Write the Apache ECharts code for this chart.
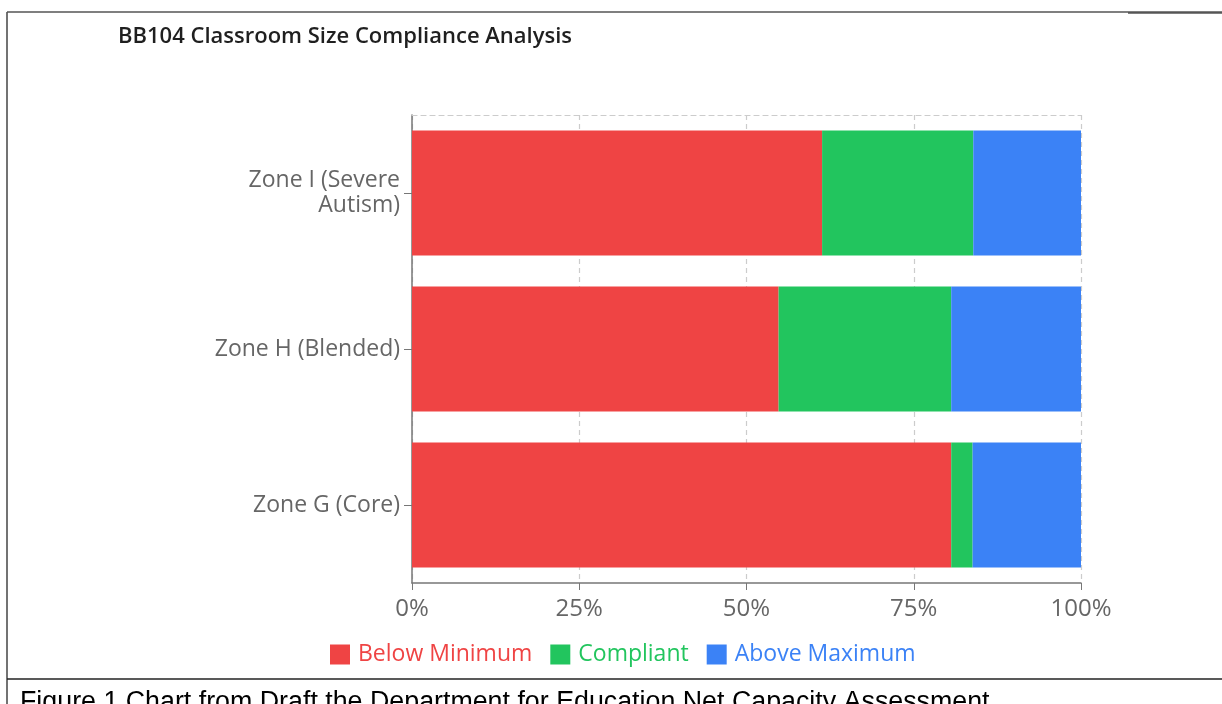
<!DOCTYPE html>
<html>
<head>
<meta charset="utf-8">
<script src="https://cdn.jsdelivr.net/npm/echarts@6/dist/echarts.min.js"></script>
<style>
  html, body { margin: 0; padding: 0; background: #fff; }
  #chart { width: 1222px; height: 704px; }
</style>
</head>
<body>
<div id="chart"></div>
<script>
// zones, top to bottom
var zones = ['Zone I (Severe\nAutism)', 'Zone H (Blended)', 'Zone G (Core)'];
var belowMin = [61.3, 54.8, 80.6];
var compliant = [22.6, 25.8, 3.2];
var aboveMax = [16.1, 19.4, 16.2];
var xTicks = [0, 25, 50, 75, 100];

var red = '#ef4444', green = '#22c55e', blue = '#3b82f6';
var font = "'Open Sans', 'Noto Sans', sans-serif";

var chart = echarts.init(document.getElementById('chart'));
chart.setOption({
  backgroundColor: '#fff',
  animation: false,
  title: [
    {text: 'BB104 Classroom Size Compliance Analysis', left: 113, top: 21,
      textStyle: {color: '#1f1f1f', fontSize: 22, fontWeight: 600, fontFamily: font}},
    {text: 'Figure 1 Chart from Draft the Department for Education Net Capacity Assessment.', left: 15, top: 684,
      textStyle: {color: '#000', fontSize: 26.8, fontWeight: 'normal', fontFamily: "'Liberation Sans', Arial, sans-serif"}}
  ],
  grid: {left: 412, right: 141, top: 115, bottom: 121, containLabel: false},
  legend: {
    top: 638, left: 325,
    icon: 'rect', itemWidth: 20, itemHeight: 20, itemGap: 18,
    textStyle: {fontSize: 23, fontFamily: font, padding: [0, 0, 0, 3]},
    data: [
      {name: 'Below Minimum', textStyle: {color: red}},
      {name: 'Compliant', textStyle: {color: green}},
      {name: 'Above Maximum', textStyle: {color: blue}}
    ]
  },
  xAxis: [
    {type: 'value', min: xTicks[0], max: xTicks[xTicks.length - 1], interval: xTicks[1] - xTicks[0],
      axisLine: {show: true, lineStyle: {color: '#777', width: 1.5}},
      axisTick: {show: true, length: 7, lineStyle: {color: '#777'}},
      axisLabel: {formatter: '{value}%', color: '#666', fontSize: 24, fontFamily: font, margin: 14},
      splitLine: {show: true, lineStyle: {color: '#ccc', type: [5, 4], width: 1.2}}},
    {type: 'value', position: 'top', min: 0, max: 100,
      axisLine: {show: true, lineStyle: {color: '#ccc', type: [5, 4], width: 1.2}},
      axisTick: {show: false}, axisLabel: {show: false}, splitLine: {show: false}}
  ],
  yAxis: {
    type: 'category', inverse: true, data: zones,
    axisLine: {show: true, lineStyle: {color: '#777', width: 1.5}},
    axisTick: {show: true, alignWithLabel: true, length: 8, lineStyle: {color: '#777'}},
    axisLabel: {color: '#666', fontSize: 23, lineHeight: 25, fontFamily: font, margin: 12, align: 'right'},
    splitLine: {show: false}
  },
  series: [
    {name: 'Below Minimum', type: 'bar', stack: 'total', barCategoryGap: '20%',
      itemStyle: {color: red}, data: belowMin},
    {name: 'Compliant', type: 'bar', stack: 'total',
      itemStyle: {color: green}, data: compliant},
    {name: 'Above Maximum', type: 'bar', stack: 'total',
      itemStyle: {color: blue}, data: aboveMax}
  ],
  graphic: [
    {type: 'line', shape: {x1: 7, y1: 12, x2: 7, y2: 704}, style: {stroke: '#444', lineWidth: 1.5}},
    {type: 'line', shape: {x1: 7, y1: 12, x2: 1128, y2: 12}, style: {stroke: '#555', lineWidth: 1.5}},
    {type: 'line', shape: {x1: 1128, y1: 12.5, x2: 1222, y2: 12.5}, style: {stroke: '#555', lineWidth: 2.5}},
    {type: 'line', shape: {x1: 7, y1: 679, x2: 1222, y2: 679}, style: {stroke: '#222', lineWidth: 1.5}}
  ]
});
</script>
</body>
</html>
